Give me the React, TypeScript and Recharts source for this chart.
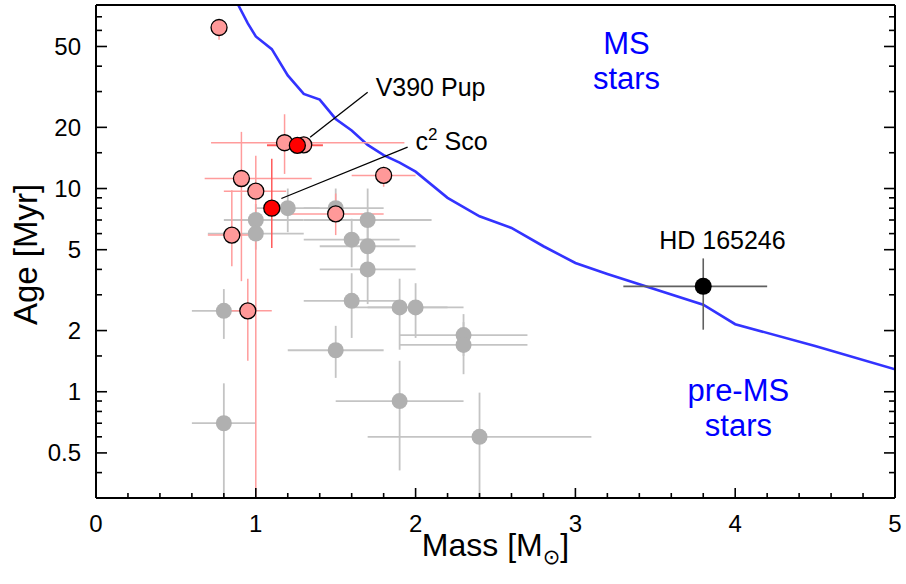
import React from 'react';
import {
  ComposedChart,
  ErrorBar,
  Line,
  ReferenceDot,
  ReferenceLine,
  Scatter,
  XAxis,
  YAxis,
} from 'recharts';

const FONT = '"Liberation Sans", Arial, Helvetica, "DejaVu Sans", sans-serif';

// each row: [mass, age, massLow, massHigh, ageLow, ageHigh]
const GREY_STARS = [
  [0.8, 2.5, 0.6, 1.0, 1.82, 3.2],
  [0.8, 0.7, 0.6, 1.0, 0.3, 1.1],
  [1.0, 7.0, 0.8, 1.3, 6.2, 8.4],
  [1.0, 6.0, 0.7, 1.3, 5.0, 7.0],
  [1.2, 8.0, 1.0, 1.4, 6.1, 10],
  [1.5, 8.0, 1.3, 1.8, 6.8, 10],
  [1.6, 5.6, 1.3, 1.9, 4.1, 7.1],
  [1.7, 7.0, 1.3, 2.1, 5.0, 10],
  [1.7, 5.2, 1.4, 2.0, 3.8, 7.0],
  [1.7, 4.0, 1.4, 2.0, 2.7, 5.5],
  [1.6, 2.8, 1.3, 1.9, 1.84, 3.83],
  [1.9, 2.6, 1.6, 2.2, 1.61, 3.6],
  [2.0, 2.6, 1.7, 2.3, 1.84, 3.42],
  [1.5, 1.6, 1.2, 1.8, 1.17, 2.11],
  [2.3, 1.9, 1.9, 2.7, 1.5, 2.41],
  [2.3, 1.7, 1.9, 2.7, 1.22, 2.2],
  [1.9, 0.9, 1.5, 2.3, 0.41, 1.42],
  [2.4, 0.6, 1.7, 3.1, 0.3, 0.99],
];

const PINK_STARS = [
  [0.77, 62, 0.77, 0.77, 54, 68],
  [1.18, 16.8, 0.72, 1.93, 11.8, 23.2],
  [1.3, 16.4, 1.07, 1.42, 15.2, 17.6],
  [0.91, 11.2, 0.68, 1.35, 3.5, 19],
  [1.0, 9.7, 0.8, 1.19, 0.3, 14.5],
  [0.85, 5.9, 0.7, 1.0, 4.15, 9.8],
  [1.8, 11.6, 1.6, 2.0, 10.2, 12.8],
  [1.5, 7.5, 1.19, 1.8, 5.9, 9.45],
  [0.95, 2.5, 0.8, 1.1, 1.42, 3.6],
];

// c2 Sco, V390 Pup
const RED_STARS = [
  [1.1, 8.0, 1.05, 1.2, 5.1, 14],
  [1.26, 16.3, 1.07, 1.42, 15, 17.8],
];

// HD 165246
const TARGET_STAR = [[3.8, 3.3, 3.3, 4.2, 2.02, 4.53]];

// MS / pre-MS boundary
const MS_MASS = [0.89, 0.95, 1.0, 1.1, 1.2, 1.3, 1.4, 1.5, 1.6, 1.7, 1.8, 1.9, 2.0, 2.2, 2.4, 2.6, 2.8, 3.0, 3.2, 3.8, 4.0, 4.5, 5.0];
const MS_AGE = [80, 65, 56, 48.5, 36, 29.2, 27.4, 22, 19.3, 16.4, 14.6, 13.4, 12.1, 9.0, 7.3, 6.4, 5.2, 4.3, 3.8, 2.68, 2.15, 1.68, 1.29];

const X_TICKS = [0, 0.2, 0.4, 0.6, 0.8, 1, 1.2, 1.4, 1.6, 1.8, 2, 2.2, 2.4, 2.6, 2.8, 3, 3.2, 3.4, 3.6, 3.8, 4, 4.2, 4.4, 4.6, 4.8, 5];
const Y_MAJOR = [0.5, 1, 2, 5, 10, 20, 50];
const Y_MINOR = [0.4, 0.6, 0.7, 0.8, 0.9, 1.5, 3, 4, 6, 7, 8, 9, 15, 30, 40, 60, 70];
const Y_TICKS = [...Y_MAJOR, ...Y_MINOR].sort((a, b) => a - b);

const toPoints = (rows: number[][]) =>
  rows.map(([m, age, mLo, mHi, aLo, aHi]) => ({
    m,
    age,
    ex: [m - mLo, mHi - m],
    ey: [age - aLo, aHi - age],
  }));

const greyData = toPoints(GREY_STARS);
const pinkData = toPoints(PINK_STARS);
const redData = toPoints(RED_STARS);
const targetData = toPoints(TARGET_STAR);
const msData = MS_MASS.map((m, i) => ({ m, age: MS_AGE[i] }));

const dot = (r: number, fill: string, stroke?: string) => (p: any) =>
  <circle cx={p.cx} cy={p.cy} r={r} fill={fill} stroke={stroke ?? 'none'} strokeWidth={1.3} />;

const isMajorX = (v: number) => Math.abs(v - Math.round(v)) < 1e-6;

function BottomTick({ x, y, payload }: any) {
  const major = isMajorX(payload.value);
  return (
    <g>
      <line x1={x} y1={y} x2={x} y2={y - (major ? 10 : 5)} stroke="#000" strokeWidth={1.6} />
      {major && (
        <text x={x} y={y + 34} textAnchor="middle" fontSize={24} fill="#000" fontFamily={FONT}>
          {Math.round(payload.value)}
        </text>
      )}
    </g>
  );
}

function TopTick({ x, y, payload }: any) {
  const major = isMajorX(payload.value);
  return <line x1={x} y1={y} x2={x} y2={y + (major ? 9 : 5)} stroke="#000" strokeWidth={1.6} />;
}

function LeftTick({ x, y, payload }: any) {
  const major = Y_MAJOR.includes(payload.value);
  return (
    <g>
      <line x1={x} y1={y} x2={x + (major ? 11 : 6)} y2={y} stroke="#000" strokeWidth={1.6} />
      {major && (
        <text x={x - 15} y={y + 8.5} textAnchor="end" fontSize={24} fill="#000" fontFamily={FONT}>
          {payload.value}
        </text>
      )}
    </g>
  );
}

function RightTick({ x, y, payload }: any) {
  const major = Y_MAJOR.includes(payload.value);
  return <line x1={x} y1={y} x2={x - (major ? 11 : 6)} y2={y} stroke="#000" strokeWidth={1.6} />;
}

function MassTitle({ viewBox }: any) {
  const { x, y, width } = viewBox;
  return (
    <text x={x + width / 2} y={y + 58} textAnchor="middle" fontSize={32} fill="#000" fontFamily={FONT}>
      Mass [M<tspan fontSize={21} dy={8} fontFamily='"DejaVu Sans", sans-serif'>⊙</tspan>
      <tspan dy={-8}>]</tspan>
    </text>
  );
}

function AgeTitle({ viewBox }: any) {
  const { y, height } = viewBox;
  return (
    <text
      transform={`translate(37, ${y + height / 2 + 3}) rotate(-90)`}
      textAnchor="middle"
      fontSize={33}
      fill="#000"
      fontFamily={FONT}
    >
      Age [Myr]
    </text>
  );
}

const note = (text: string, color: string, size: number, anchor: string) => (p: any) => (
  <text x={p.cx} y={p.cy} textAnchor={anchor} fontSize={size} fill={color} fontFamily={FONT}>
    {text}
  </text>
);

const c2Label = (p: any) => (
  <text x={p.cx} y={p.cy} fontSize={25} fill="#000" fontFamily={FONT}>
    c<tspan fontSize={17} dy={-10}>2</tspan>
    <tspan dy={10}> Sco</tspan>
  </text>
);

const axisLine = { stroke: '#000', strokeWidth: 2 };

export default function App() {
  return (
    <div style={{ position: 'absolute', left: 0, top: 0, background: '#fff', fontFamily: FONT }}>
      <ComposedChart width={906} height={584} margin={{ top: 0, right: 0, bottom: 0, left: 0 }}>
        <XAxis
          xAxisId="b"
          dataKey="m"
          type="number"
          domain={[0, 5]}
          allowDataOverflow
          ticks={X_TICKS}
          interval={0}
          height={86}
          tickSize={0}
          tickMargin={0}
          tickLine={false}
          axisLine={axisLine}
          tick={<BottomTick />}
          label={<MassTitle />}
        />
        <XAxis
          xAxisId="t"
          orientation="top"
          type="number"
          domain={[0, 5]}
          allowDataOverflow
          ticks={X_TICKS}
          interval={0}
          height={5}
          tickSize={0}
          tickMargin={0}
          tickLine={false}
          axisLine={axisLine}
          tick={<TopTick />}
        />
        <YAxis
          yAxisId="l"
          dataKey="age"
          type="number"
          scale="log"
          domain={[0.3, 80]}
          allowDataOverflow
          ticks={Y_TICKS}
          interval={0}
          width={96}
          tickSize={0}
          tickMargin={0}
          tickLine={false}
          axisLine={axisLine}
          tick={<LeftTick />}
          label={<AgeTitle />}
        />
        <YAxis
          yAxisId="r"
          orientation="right"
          type="number"
          scale="log"
          domain={[0.3, 80]}
          allowDataOverflow
          ticks={Y_TICKS}
          interval={0}
          width={11}
          tickSize={0}
          tickMargin={0}
          tickLine={false}
          axisLine={axisLine}
          tick={<RightTick />}
        />

        <Scatter xAxisId="b" yAxisId="l" data={greyData} isAnimationActive={false} shape={dot(8, '#b0b0b0')}>
          <ErrorBar dataKey="ex" direction="x" width={0} stroke="#c4c4c4" strokeWidth={1.8} isAnimationActive={false} />
          <ErrorBar dataKey="ey" direction="y" width={0} stroke="#c4c4c4" strokeWidth={1.8} isAnimationActive={false} />
        </Scatter>

        <Line
          xAxisId="b"
          yAxisId="l"
          data={msData}
          dataKey="age"
          type="linear"
          stroke="#3333ff"
          strokeWidth={2.6}
          dot={false}
          isAnimationActive={false}
        />

        <Scatter xAxisId="b" yAxisId="l" data={pinkData} isAnimationActive={false} shape={dot(8, '#ff9999', '#000')}>
          <ErrorBar dataKey="ex" direction="x" width={0} stroke="#ff9c9c" strokeWidth={1.5} isAnimationActive={false} />
          <ErrorBar dataKey="ey" direction="y" width={0} stroke="#ff9c9c" strokeWidth={1.5} isAnimationActive={false} />
        </Scatter>

        <Scatter xAxisId="b" yAxisId="l" data={redData} isAnimationActive={false} shape={dot(8, '#ff0000', '#000')}>
          <ErrorBar dataKey="ex" direction="x" width={0} stroke="#ff5a5a" strokeWidth={1.5} isAnimationActive={false} />
          <ErrorBar dataKey="ey" direction="y" width={0} stroke="#ff5a5a" strokeWidth={1.5} isAnimationActive={false} />
        </Scatter>

        <Scatter xAxisId="b" yAxisId="l" data={targetData} isAnimationActive={false} shape={dot(8.5, '#000')}>
          <ErrorBar dataKey="ex" direction="x" width={0} stroke="#606060" strokeWidth={1.6} isAnimationActive={false} />
          <ErrorBar dataKey="ey" direction="y" width={0} stroke="#606060" strokeWidth={1.6} isAnimationActive={false} />
        </Scatter>

        <ReferenceLine
          xAxisId="b"
          yAxisId="l"
          segment={[{ x: 1.34, y: 17.9 }, { x: 1.7, y: 29.8 }]}
          stroke="#000"
          strokeWidth={1.3}
        />
        <ReferenceLine
          xAxisId="b"
          yAxisId="l"
          segment={[{ x: 1.16, y: 8.93 }, { x: 1.95, y: 16.0 }]}
          stroke="#000"
          strokeWidth={1.3}
        />

        <ReferenceDot xAxisId="b" yAxisId="l" x={1.75} y={28.6} r={0} shape={note('V390 Pup', '#000', 25, 'start')} />
        <ReferenceDot xAxisId="b" yAxisId="l" x={2.0} y={15.4} r={0} shape={c2Label} />
        <ReferenceDot xAxisId="b" yAxisId="l" x={3.92} y={5.04} r={0} shape={note('HD 165246', '#000', 25, 'middle')} />
        <ReferenceDot xAxisId="b" yAxisId="l" x={3.32} y={45.9} r={0} shape={note('MS', '#0000ff', 31, 'middle')} />
        <ReferenceDot xAxisId="b" yAxisId="l" x={3.32} y={30.9} r={0} shape={note('stars', '#0000ff', 31, 'middle')} />
        <ReferenceDot xAxisId="b" yAxisId="l" x={4.02} y={0.904} r={0} shape={note('pre-MS', '#0000ff', 31, 'middle')} />
        <ReferenceDot xAxisId="b" yAxisId="l" x={4.02} y={0.609} r={0} shape={note('stars', '#0000ff', 31, 'middle')} />
      </ComposedChart>
    </div>
  );
}
